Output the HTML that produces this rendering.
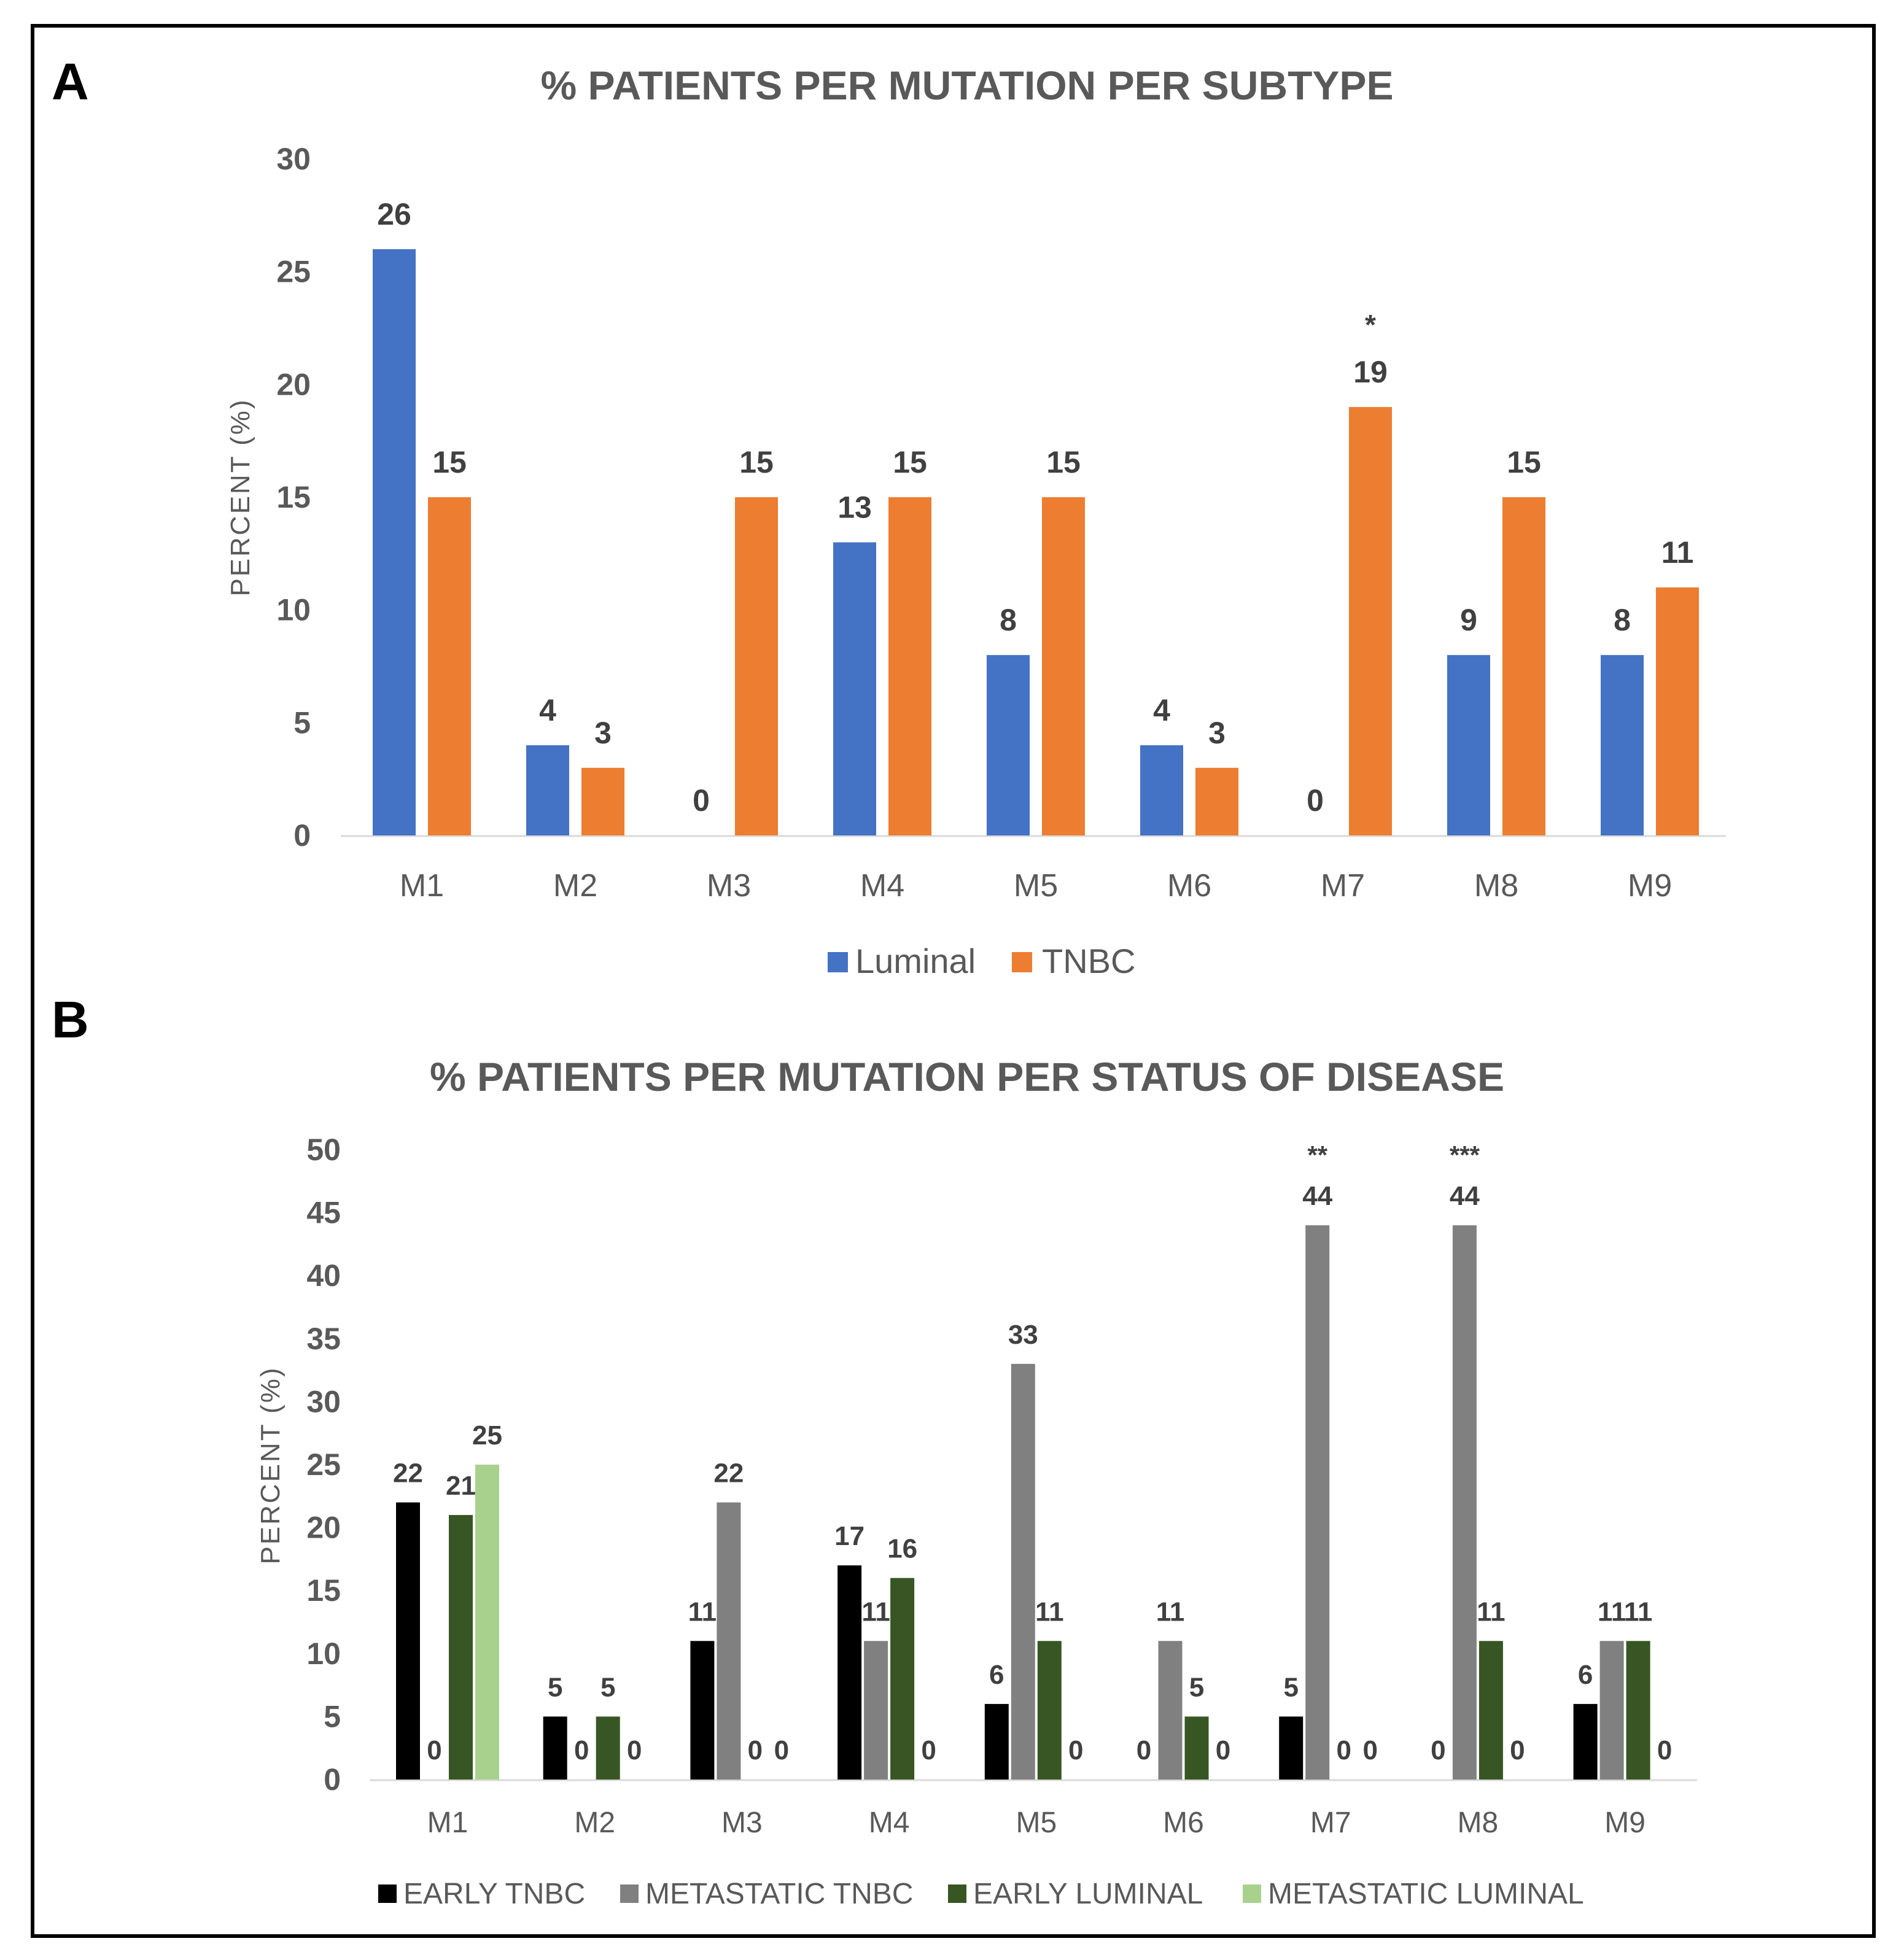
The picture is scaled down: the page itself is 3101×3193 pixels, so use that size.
<!DOCTYPE html>
<html><head><meta charset="utf-8"><style>
html,body{margin:0;padding:0;background:#fff;}
svg{display:block;font-family:"Liberation Sans Narrow","Liberation Sans",sans-serif;}
</style></head><body>
<svg id="fig" width="3101" height="3193" viewBox="0 0 3101 3193" xmlns="http://www.w3.org/2000/svg">
<rect x="53" y="42" width="2999" height="3112" fill="none" stroke="#000" stroke-width="6"/>
<text x="84" y="162" font-size="84" font-weight="bold" fill="#000">A</text>
<text x="1575" y="162" font-size="66" font-weight="bold" fill="#595959" text-anchor="middle" textLength="1389" lengthAdjust="spacingAndGlyphs">% PATIENTS PER MUTATION PER SUBTYPE</text>
<text x="84" y="1690" font-size="84" font-weight="bold" fill="#000">B</text>
<text x="1575" y="1777" font-size="66" font-weight="bold" fill="#595959" text-anchor="middle" textLength="1750" lengthAdjust="spacingAndGlyphs">% PATIENTS PER MUTATION PER STATUS OF DISEASE</text>
<g id="chartA"></g>
<g id="chartB"></g>
</svg>
<script>
const categories = ["M1","M2","M3","M4","M5","M6","M7","M8","M9"];
const luminalValues = [26,4,0,13,8,4,0,8,8];
const luminalLabels = ["26","4","0","13","8","4","0","9","8"];
const tnbcValues = [15,3,15,15,15,3,19,15,11];
const tnbcLabels = ["15","3","15","15","15","3","19","15","11"];
const ticksA = [0,5,10,15,20,25,30];
const earlyTnbc = [22,5,11,17,6,0,5,0,6];
const metTnbc = [0,0,22,11,33,11,44,44,11];
const earlyLuminal = [21,5,0,16,11,5,0,11,11];
const metLuminal = [25,0,0,0,0,0,0,0,0];
const ticksB = [0,5,10,15,20,25,30,35,40,45,50];
const starsA = ["","","","","","","*","",""];
const starsB = ["","","","","","","**","***",""];

const NS="http://www.w3.org/2000/svg";
function mk(parent, tag, attrs, txt){
  const e=document.createElementNS(NS,tag);
  for(const k in attrs) e.setAttribute(k,attrs[k]);
  if(txt!==undefined) e.textContent=txt;
  parent.appendChild(e); return e;
}

// Chart A
(function(){
  const g=document.getElementById('chartA');
  const y0=1361, yTop=259, vmax=30;
  const y=v=>y0-(v/vmax)*(y0-yTop);
  const x=i=>687+i*250;
  ticksA.forEach(t=>{
    const e=mk(g,'text',{x:506,y:y(t)+17,'font-size':50,'font-weight':'bold',fill:'#595959','text-anchor':'end'},String(t));
    
    
  });
  const yt=mk(g,'text',{x:0,y:0,'font-size':44,fill:'#595959','text-anchor':'middle','letter-spacing':3,transform:'translate(406,810) rotate(-90)'},'PERCENT (%)');
  
  
  const ax=mk(g,'line',{x1:555,x2:2811,y1:y0+1,y2:y0+1,stroke:'#d9d9d9','stroke-width':3});
  
  
  categories.forEach((c,i)=>{
    const cx=x(i);
    const b1=mk(g,'rect',{x:cx-80,y:y(luminalValues[i]),width:70,height:y0-y(luminalValues[i]),fill:'#4472C4'});
    
    
    const b2=mk(g,'rect',{x:cx+10,y:y(tnbcValues[i]),width:70,height:y0-y(tnbcValues[i]),fill:'#ED7D31'});
    
    
    const l1=mk(g,'text',{x:cx-45,y:y(luminalValues[i])-40,'font-size':50,'font-weight':'bold',fill:'#404040','text-anchor':'middle'},luminalLabels[i]);
    
    
    const l2=mk(g,'text',{x:cx+45,y:y(tnbcValues[i])-40,'font-size':50,'font-weight':'bold',fill:'#404040','text-anchor':'middle'},tnbcLabels[i]);
    
    
    if(starsA[i]){
      const s=mk(g,'text',{x:cx+45,y:y(tnbcValues[i])-118,'font-size':46,'font-weight':'bold',fill:'#404040','text-anchor':'middle'},starsA[i]);
      
      
    }
    const cl=mk(g,'text',{x:cx,y:1460,'font-size':52,fill:'#595959','text-anchor':'middle'},c);
    
    
  });
  const lg=mk(g,'g',{});
  
  
  const r1=mk(lg,'rect',{x:1348,y:1551,width:33,height:33,fill:'#4472C4'});
  
  
  const t1=mk(lg,'text',{x:1393,y:1585,'font-size':56,fill:'#595959'},'Luminal');
  
  
  const r2=mk(lg,'rect',{x:1648,y:1551,width:33,height:33,fill:'#ED7D31'});
  
  
  const t2=mk(lg,'text',{x:1697,y:1585,'font-size':56,fill:'#595959'},'TNBC');
  
  
})();

// Chart B
(function(){
  const g=document.getElementById('chartB');
  const y0=2899, yTop=1873, vmax=50;
  const y=v=>y0-(v/vmax)*(y0-yTop);
  const x=i=>729+i*239.7;
  ticksB.forEach(t=>{
    const e=mk(g,'text',{x:555,y:y(t)+17,'font-size':50,'font-weight':'bold',fill:'#595959','text-anchor':'end'},String(t));
    
    
  });
  const yt=mk(g,'text',{x:0,y:0,'font-size':44,fill:'#595959','text-anchor':'middle','letter-spacing':3,transform:'translate(455,2387) rotate(-90)'},'PERCENT (%)');
  
  
  const ax=mk(g,'line',{x1:602,x2:2764,y1:y0+1,y2:y0+1,stroke:'#d9d9d9','stroke-width':3});
  
  
  const series=[earlyTnbc,metTnbc,earlyLuminal,metLuminal];
  const colors=['#000000','#808080','#375623','#A9D18E'];
  const names=['early-tnbc','metastatic-tnbc','early-luminal','metastatic-luminal'];
  categories.forEach((c,i)=>{
    const cx=x(i);
    series.forEach((s,k)=>{
      const bx=cx-84+k*43;
      const v=s[i];
      if(v>0){
        const b=mk(g,'rect',{x:bx,y:y(v),width:39,height:y0-y(v),fill:colors[k]});
        
        
      }
      const l=mk(g,'text',{x:bx+19.5,y:y(v)-33,'font-size':44,'font-weight':'bold',fill:'#404040','text-anchor':'middle'},String(v));
      
      
      if(k===1 && starsB[i]){
        const st=mk(g,'text',{x:bx+19.5,y:y(v)-100,'font-size':42,'font-weight':'bold',fill:'#404040','text-anchor':'middle'},starsB[i]);
        
        
      }
    });
    const cl=mk(g,'text',{x:cx,y:2985,'font-size':48,fill:'#595959','text-anchor':'middle'},c);
    
    
  });
  const lg=mk(g,'g',{});
  
  
  const lx=[616,1010,1544,2024];
  const labels=['EARLY TNBC','METASTATIC TNBC','EARLY LUMINAL','METASTATIC LUMINAL'];
  labels.forEach((t,k)=>{
    const r=mk(lg,'rect',{x:lx[k],y:3070,width:30,height:30,fill:colors[k]});
    
    
    const tx=mk(lg,'text',{x:lx[k]+41,y:3101,'font-size':48,fill:'#595959'},t);
    
    
  });
})();
</script>
</body></html>
